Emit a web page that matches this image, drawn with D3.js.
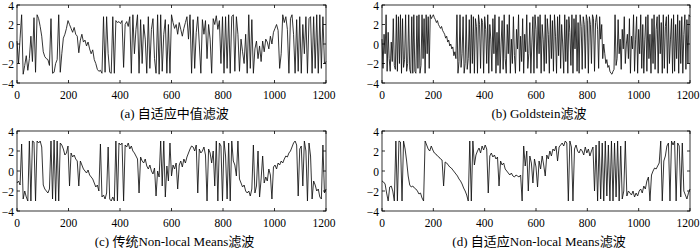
<!DOCTYPE html>
<html>
<head>
<meta charset="utf-8">
<script src="https://cdn.jsdelivr.net/npm/d3@7"></script>
<style>
  body { margin: 0; background: #fff; }
  svg { display: block; }
  text { font-family: "Liberation Serif", "Times New Roman", serif; font-size: 11.5px; fill: #000; }
  .caption { font-family: "Liberation Serif", "Noto Sans CJK SC", serif; font-size: 13px; }
</style>
</head>
<body>
<svg id="chart" width="700" height="248" font-family="Liberation Serif, Noto Sans CJK SC, serif"></svg>
<script>
const xTicks = [0, 200, 400, 600, 800, 1000, 1200];
const yTicks = [-4, -2, 0, 2, 4];
const captions = ["(a) 自适应中值滤波", "(b) Goldstein滤波", "(c) 传统Non-local Means滤波", "(d) 自适应Non-local Means滤波"];

// sample spacing along the profile for each series
const sampleSteps = [6, 4, 6, 6];

const medianVals = [
  0.3, -2.0, 0.6, 3.0, -3.1, -2.2, -1.2, -2.7, -1.5, 0.8,
  -1.8, 2.7, -2.9, 3.0, 2.6, 1.8, 0.8, -0.8, -1.3, -1.5,
  -1.6, -2.2, 2.6, -3.0, -2.9, -2.0, -1.6, 3.0, -2.9, -1.0,
  0.6, 1.0, 1.6, 2.4, 2.0, 1.6, 1.2, 1.7, 1.0, 0.8,
  -0.9, 0.4, 1.0, 0.2, 0.4, -0.2, 0.2, -0.5, -1.0, -0.6,
  -1.6, -2.0, -2.6, -2.8, -2.7, -3.0, 2.8, -2.9, 2.8, -1.0,
  -2.9, -3.0, 2.8, -3.0, 2.4, 2.2, 2.3, 2.1, 2.4, -2.4,
  2.0, 2.3, 1.8, 2.8, -3.0, 3.0, -1.0, 1.5, 3.0, -3.0,
  2.5, -2.0, 2.0, 0.5, -3.0, 2.8, -2.5, 1.5, 2.6, -1.5,
  -3.0, 3.0, -3.1, 3.0, -2.8, 1.0, 2.5, -3.0, 2.0, -3.0,
  3.0, 2.2, 1.6, 2.0, 1.0, 2.2, 1.5, 0.8, 1.6, 2.2,
  2.8, 0.5, 3.0, -3.0, 2.5, -2.5, 1.2, 2.8, 0.0, -3.0,
  2.5, 1.0, 2.4, -1.5, 2.0, 0.5, -3.0, 2.6, 2.0, 2.9,
  1.5, 2.4, -2.0, 2.8, -3.0, 2.8, -2.5, 3.0, -3.0, 2.8,
  3.0, -2.8, 2.8, 1.0, -2.8, 0.5, -0.8, -2.0, 1.0, -3.0,
  3.0, -2.5, 2.5, -3.0, -0.5, 0.3, -1.5, -0.2, -1.8, 0.3,
  -0.8, 0.5, 0.2, -0.5, 0.8, 0.0, 1.2, 1.6, 2.0, 1.4,
  -2.5, -1.0, 3.0, 2.2, 2.8, 1.5, -3.0, 2.6, 3.0, 1.0,
  -3.0, 2.5, -2.8, 2.8, -3.0, 2.0, -1.0, 2.8, -3.0, 2.6,
  2.8, -3.0, 2.8, -2.5, 3.0, -3.0, 3.0, -2.5, 2.8, -2.0, -1.8
];

const goldsteinVals = [
  0.5, -2.5, 1.0, -1.0, 3.0, -2.8, 1.2, -1.5, -2.8, 0.2, -1.8, 2.6, -2.2, -2.6, 3.0, -2.8, 2.8, -2.0, 3.0, -3.0, 2.6, -2.4, -1.6, 3.0, -2.8,
  -2.0, 3.0, -2.6, -3.0, 2.8, -3.0, 3.0, -2.8, -3.0, 2.9, -2.5, 3.0, -3.0, -2.2, 3.0, -1.5, 2.6, -3.0, 3.0, -1.0, 2.8, -2.5, 3.0,
  2.6, 2.8, 3.0, 2.7, 2.5, 2.2, 2.4, 2.0, 1.8, 1.6, 1.8, 1.4, 1.2, 1.0, 0.6, 0.8, 0.2, 0.4, -0.2, 0.0, -0.5, -0.3, -1.2, -0.8, -1.5,
  3.0, -3.0, -1.8, 3.0, -2.4, -1.0, 2.8, -3.0, -2.0, 3.0, -2.6, -1.5, 2.5, -3.0, 3.0, -2.0, 2.8, -3.0, 2.6, 1.8, -3.0, 3.0, 2.0, -2.5, 2.6,
  2.2, -3.0, 2.8, 1.5, -2.0, 3.0, -3.0, 2.0, 0.5, -2.8, 2.6, -1.0, 3.0, -3.0, 1.2, -2.2, 2.8, -3.0, 0.0, 2.4, -2.6, 3.0, -1.5, -3.0, 2.0,
  -1.0, 3.0, -3.0, 0.5, -2.0, 2.8, -1.2, -3.0, 1.5, -0.5, 3.0, -2.8, 0.8, -1.8, 2.6, -3.0, 1.0, -0.8, 3.0, -2.5, -1.0, 2.2, -3.0, 0.2, 2.8,
  -3.0, 3.0, 1.5, -2.5, 2.8, -1.0, 3.0, -3.0, 2.0, 0.5, -2.8, 3.0, -2.0, 2.6, 1.0, -3.0, 3.0, -1.5, 2.4, -2.8, 3.0, 0.8, -3.0, 2.8, -1.2,
  3.0, -2.5, 2.0, 0.0, -3.0, 3.0, -1.8, 2.5, -3.0, 2.8, 1.2, -2.2, 3.0, -3.0, 2.6, -0.5, 3.0, -2.8, 2.2, -3.0, 3.0, 1.8, -2.6, 2.8, 2.0,
  -2.5, 3.0, 2.4, -3.0, 2.8, 2.0, -2.0, 3.0, 2.6, -2.8, 2.2, 3.0, 1.5, -2.5, 2.8, 0.5, 2.0, -1.5, 0.0, -1.0, -2.0, -1.6, -2.4, -2.2, -2.8,
  -3.0, -3.1, -2.8, -2.6, 3.0, -2.2, -1.5, 2.5, -1.0, 0.5, -2.6, 1.5, -0.5, 2.8, -2.0, 0.0, 1.0, -1.5, 2.6, -3.0, 0.8, -0.5, 3.0, -2.8, 0.5,
  2.8, -3.0, 1.5, -1.0, 3.0, -2.5, 2.0, -3.0, 0.5, 2.8, -2.8, 3.0, -1.5, 1.0, -3.0, 2.6, -2.0, 3.0, -2.6, 1.5, 2.8, -3.0, 3.0, -1.0, 2.2,
  -3.0, 3.0, -2.5, 1.8, 2.8, -3.0, 3.0, -2.0, 0.5, 2.6, -3.0, 3.0, -2.8, 2.0, -1.5, 3.0, -3.0, 2.4, -2.0, 2.8, -3.0, 1.0, 3.0, -2.6, 2.5, -2.0, 3.0, 2.8
];

const nlmVals = [
  -1.2, -1.0, -1.4, 2.7, -2.8, -2.0, -2.6, -3.0, 3.0, -3.0,
  3.0, 2.9, -3.0, 3.0, 2.8, 3.0, 2.4, -1.4, -1.8, -2.0,
  -2.2, -1.8, 3.0, -2.8, 3.1, -3.0, 3.0, -3.0, 2.8, 2.6,
  2.2, 1.6, 1.8, 2.5, -1.5, 1.8, 1.4, 1.6, 1.2, 1.0,
  -1.5, 1.0, 0.6, 0.2, 0.0, -0.2, 0.1, -0.4, -0.6, -0.8,
  -1.2, -1.6, -1.4, -2.0, 2.7, -2.6, -2.4, -2.8, -2.2, 2.4,
  -2.8, -3.0, -2.6, -3.0, 3.0, -3.0, 2.8, 2.6, 2.8, -3.0,
  2.6, 2.4, 2.8, 2.2, 2.5, 2.0, 1.8, 1.5, 1.2, -2.2,
  1.4, 1.0, 0.8, 1.2, 0.5, 0.2, 0.6, 0.0, -0.3, 0.3,
  -2.5, 0.0, -0.6, 3.0, -1.5, 3.0, -2.6, 0.5, -1.0, 2.8,
  -0.5, 0.6, 0.2, 0.8, -1.8, 0.6, 1.0, 0.4, 1.2, 0.8,
  1.4, 1.8, 2.2, 2.5, 2.4, 2.0, 2.6, -2.2, 2.2, 1.8,
  2.0, 2.4, 1.6, -3.0, 2.2, 1.8, 0.8, 2.0, -1.5, 3.0,
  -3.0, 2.8, 2.5, -3.0, 3.0, 1.5, -2.8, 2.8, -3.0, 3.0,
  1.0, 0.6, -0.5, 3.0, -0.8, -1.2, -1.6, -1.4, -2.0, -2.2,
  -2.0, -2.5, -1.8, 2.6, -2.2, -1.5, 2.0, -2.6, -0.8, 1.5,
  -1.2, -0.6, -1.0, 0.2, -0.4, -2.8, 0.4, 0.6, 0.2, 0.8,
  0.6, 1.0, 0.8, 1.2, 1.5, 1.4, 1.8, 2.0, 2.4, 2.8,
  3.0, 2.6, -2.5, 2.2, 2.5, -1.5, 3.0, 2.0, -3.0, 2.8,
  1.5, -2.8, -1.0, -1.4, -2.0, -1.8, -2.6, -2.8, 2.6, -2.2, -1.8
];

const adaptiveNlmVals = [
  -1.0, -1.1, -1.3, -2.2, -3.0, -1.6, -1.5, -2.0, -3.0, 3.0,
  -3.0, 3.0, 2.9, -3.0, 3.0, 2.2, 1.0, -0.5, -1.4, -1.6,
  -1.5, -1.7, -1.8, -2.0, -2.3, -2.2, -2.7, -3.0, 3.0, 2.6,
  2.2, 2.0, 2.5, 2.1, 1.8, 1.7, 1.5, 1.4, 1.2, 1.1,
  -1.5, 0.9, 0.8, 0.6, 0.4, 0.3, 0.1, -0.1, -0.3, -0.5,
  -0.8, -1.0, -1.3, -1.7, -2.0, -2.4, -3.0, 3.0, -3.0, 3.0,
  0.6, 1.6, 2.0, 2.3, 1.8, 2.5, 2.1, 2.6, 2.2, -2.2,
  1.5, 1.8, 1.4, 1.6, 1.2, 1.4, -1.5, 1.0, 0.6, 0.8,
  0.2, 0.0, -0.2, -0.4, -0.2, -0.5, -0.6, -0.4, -0.5, -0.6,
  -0.4, -3.0, 2.5, 0.5, 2.0, -2.0, 1.5, 0.8, -1.2, 1.2,
  0.4, -1.6, 1.0, 0.2, 1.5, 0.6, -0.5, 1.6, 1.2, 2.0,
  1.5, 2.2, 2.0, 2.5, 1.0, 2.4, 2.6, 2.8, 2.5, 3.0,
  2.8, -3.0, 3.0, 2.4, -3.0, 2.2, 2.6, 2.0, 1.8, 2.2,
  2.0, 1.6, 2.4, 1.8, 2.2, 1.5, 2.0, 2.4, -2.0, 2.6,
  -3.0, 3.0, -2.8, 2.8, -3.0, 3.0, -2.5, 2.6, -3.0, 3.0,
  -3.0, 2.8, -2.6, 3.0, -3.0, 2.5, -2.8, -2.0, 3.0, -2.5,
  -2.0, -2.2, -2.4, -2.0, -2.6, -2.2, -2.5, -2.0, -1.8, -2.2,
  -1.5, -1.8, -1.0, -0.6, -3.0, -0.4, 0.0, 0.3, 0.2, 0.5,
  0.8, 3.0, -3.0, 1.0, 1.5, 2.5, 2.8, -3.0, 3.0, 2.6,
  3.0, -3.0, 2.8, 2.5, -2.6, 2.8, -2.0, -2.4, -2.8, -2.2, -1.8
];

const series = [medianVals, goldsteinVals, nlmVals, adaptiveNlmVals];

// panel boxes in page pixels
const panels = [
  { left: 17, right: 326, top: 5, bottom: 83 },
  { left: 382, right: 690, top: 5, bottom: 83 },
  { left: 17, right: 326, top: 131, bottom: 211 },
  { left: 382, right: 690, top: 131, bottom: 211 }
];

const svg = d3.select("#chart");

panels.forEach((p, idx) => {
  const values = series[idx];
  const step = sampleSteps[idx];
  const x = d3.scaleLinear().domain([0, 1200]).range([p.left, p.right]);
  const y = d3.scaleLinear().domain([-4, 4]).range([p.bottom, p.top]);
  const g = svg.append("g");

  // signal
  const line = d3.line()
    .x((d, i) => x(i * step))
    .y(d => y(d));
  g.append("path")
    .datum(values)
    .attr("fill", "none")
    .attr("stroke", "#111")
    .attr("stroke-width", 0.85)
    .attr("d", line);

  // frame with inward ticks on all sides
  const tl = 3;
  g.append("rect")
    .attr("x", p.left).attr("y", p.top)
    .attr("width", p.right - p.left).attr("height", p.bottom - p.top)
    .attr("fill", "none").attr("stroke", "#000").attr("stroke-width", 0.8);

  const ticks = g.append("g").attr("stroke", "#000").attr("stroke-width", 0.8);
  xTicks.forEach(t => {
    ticks.append("line").attr("x1", x(t)).attr("x2", x(t)).attr("y1", p.bottom).attr("y2", p.bottom - tl);
    ticks.append("line").attr("x1", x(t)).attr("x2", x(t)).attr("y1", p.top).attr("y2", p.top + tl);
  });
  yTicks.forEach(t => {
    ticks.append("line").attr("x1", p.left).attr("x2", p.left + tl).attr("y1", y(t)).attr("y2", y(t));
    ticks.append("line").attr("x1", p.right).attr("x2", p.right - tl).attr("y1", y(t)).attr("y2", y(t));
  });

  // tick labels (the last one nudged left so it stays on the page)
  g.selectAll(".xl").data(xTicks).enter().append("text")
    .attr("x", d => d === 1200 ? x(d) - 2 : x(d))
    .attr("y", p.bottom + 16)
    .attr("text-anchor", "middle")
    .text(d => d);

  g.selectAll(".yl").data(yTicks).enter().append("text")
    .attr("x", p.left - 3)
    .attr("y", d => y(d) + 4.5)
    .attr("text-anchor", "end")
    .text(d => d3.format("d")(d));

  // caption
  g.append("text")
    .attr("class", "caption")
    .attr("x", (p.left + p.right) / 2 + 3)
    .attr("y", p.bottom + 35)
    .attr("text-anchor", "middle")
    .text(captions[idx]);
});
</script>
</body>
</html>
